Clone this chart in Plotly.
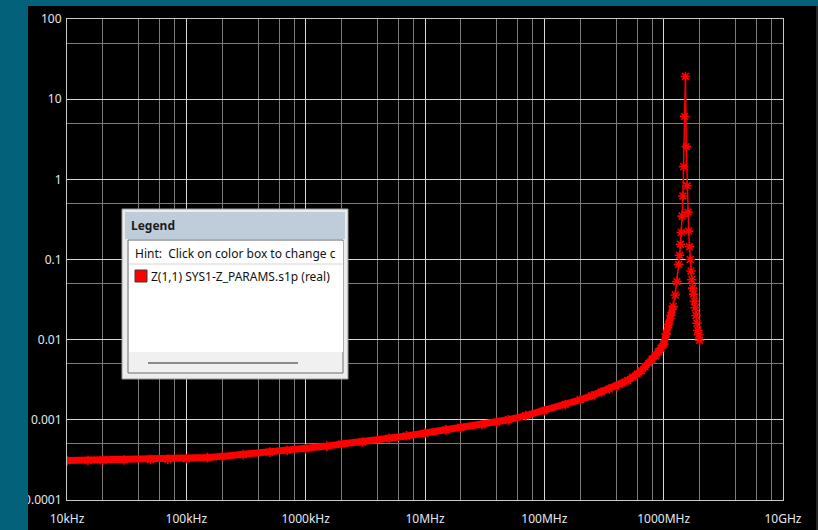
import plotly.graph_objects as go

# ---------------- data ----------------
freq_hz = [
    1e4, 1.5e4, 2e4, 3e4, 5e4, 7e4,
    1e5, 1.5e5, 2e5, 3e5, 5e5, 7e5,
    1e6, 1.5e6, 2e6, 3e6, 5e6, 7e6,
    1e7, 1.5e7, 2e7, 3e7, 4e7, 5e7, 7e7,
    1e8, 1.5e8, 2e8, 2.5e8, 3e8, 3.5e8, 4e8, 4.5e8, 5e8, 5.5e8, 6e8, 6.5e8,
    7e8, 7.5e8, 8e8, 8.5e8, 9e8, 9.5e8,
    1.0e9, 1.05e9, 1.1e9, 1.15e9, 1.2e9, 1.25e9, 1.29e9, 1.336e9,
    1.36e9, 1.384e9, 1.405e9, 1.427e9, 1.45e9, 1.472e9, 1.497e9, 1.522e9,
    1.548e9, 1.572e9, 1.596e9, 1.62e9, 1.645e9, 1.67e9, 1.695e9,
    1.72e9, 1.75e9, 1.78e9, 1.81e9, 1.84e9, 1.87e9, 1.90e9, 1.93e9, 1.96e9, 2.0e9,
]
z11_real = [
    0.00031, 0.000312, 0.000314, 0.000316, 0.00032, 0.000323,
    0.000327, 0.000338, 0.00035, 0.000368, 0.000395, 0.000415,
    0.000435, 0.00047, 0.0005, 0.00053, 0.00059, 0.00063,
    0.00068, 0.00075, 0.0008, 0.00087, 0.00093, 0.001, 0.00113,
    0.0013, 0.00155, 0.00178, 0.002, 0.00222, 0.00242, 0.00262, 0.00285, 0.0031, 0.0034, 0.0037, 0.0041,
    0.0046, 0.0051, 0.0057, 0.0063, 0.007, 0.0078,
    0.0088, 0.0118, 0.0155, 0.02, 0.026, 0.036, 0.053, 0.087,
    0.113, 0.155, 0.218, 0.348, 0.62, 1.44, 6.1, 19.2,
    2.56, 0.83, 0.39, 0.226, 0.144, 0.1, 0.072,
    0.056, 0.044, 0.037, 0.03, 0.025, 0.02, 0.016, 0.013, 0.0115, 0.0098,
]
series_name = "Z(1,1) SYS1-Z_PARAMS.s1p (real)"

x_tickvals = [1e4, 1e5, 1e6, 1e7, 1e8, 1e9, 1e10]
x_ticktext = ["10kHz", "100kHz", "1000kHz", "10MHz", "100MHz", "1000MHz", "10GHz"]
y_tickvals = [1e-4, 1e-3, 1e-2, 1e-1, 1, 10, 100]
y_ticktext = ["0.0001", "0.001", "0.01", "0.1", "1", "10", "100"]
x_minor = [m * 10.0 ** e for e in range(4, 10) for m in (2, 4, 6, 8)]
y_minor = [5 * 10.0 ** e for e in range(-4, 2)]

# dense (band-looking) part of the sweep, below the resonance
n_dense = sum(1 for f in freq_hz if f <= 1.2e9)

# ---------------- layout geometry ----------------
W, H = 818, 530
L, R, T, B = 67, 35, 19, 30
PW, PH = W - L - R, H - T - B


def px(x):
    return (x - L) / PW


def py(y):
    return (H - B - y) / PH


TEAL = "#03627a"
MAJOR = "#d8d8d8"
MINOR = "#7a7a7a"
FONT = "Noto Sans"

fig = go.Figure()
fig.add_trace(go.Scatter(
    x=freq_hz[:n_dense], y=z11_real[:n_dense], name=series_name, mode="lines",
    line=dict(color="#ff0000", width=7),
    showlegend=False, hoverinfo="skip",
))
fig.add_trace(go.Scatter(
    x=freq_hz, y=z11_real, name=series_name, mode="lines+markers",
    line=dict(color="#ff0000", width=1.5),
    marker=dict(symbol="asterisk-open", size=8, color="#ff0000",
                line=dict(color="#ff0000", width=1.6)),
    showlegend=False, hoverinfo="x+y",
))

axis_common = dict(
    type="log", showline=True, linecolor="#c8c8c8", linewidth=1, mirror=True,
    gridcolor=MAJOR, gridwidth=1, zeroline=False, ticks="", automargin=False,
    tickfont=dict(family=FONT, size=12, color="#e4e8ee"),
    tickmode="array",
)
fig.update_xaxes(**axis_common, range=[4, 10], tickvals=x_tickvals, ticktext=x_ticktext,
                 ticklabelstandoff=8,
                 minor=dict(tickmode="array", tickvals=x_minor, showgrid=True,
                            gridcolor=MINOR, gridwidth=1, ticks=""))
fig.update_yaxes(**axis_common, range=[-4, 2], tickvals=y_tickvals, ticktext=y_ticktext,
                 ticklabelstandoff=2,
                 minor=dict(tickmode="array", tickvals=y_minor, showgrid=True,
                            gridcolor=MINOR, gridwidth=1, ticks=""))

shapes = [
    # teal window frame (top strip and left strip), drawn over tick labels
    dict(type="rect", xref="paper", yref="paper", x0=px(-5), x1=px(W + 5), y0=py(6), y1=py(-5),
         fillcolor=TEAL, line=dict(width=0), layer="above"),
    dict(type="rect", xref="paper", yref="paper", x0=px(-5), x1=px(28), y0=py(H + 5), y1=py(-5),
         fillcolor=TEAL, line=dict(width=0), layer="above"),
    dict(type="line", xref="paper", yref="paper", x0=px(817), x1=px(817), y0=py(6), y1=py(H),
         line=dict(color="#4a4a4a", width=1), layer="above"),
    # legend window
    dict(type="rect", xref="paper", yref="paper", x0=px(122), x1=px(348), y0=py(379), y1=py(209),
         fillcolor="#ececec", line=dict(color="#9a9a9a", width=1), layer="above"),
    dict(type="rect", xref="paper", yref="paper", x0=px(125), x1=px(345), y0=py(239), y1=py(212),
         fillcolor="#bfcddb", line=dict(width=0), layer="above"),
    dict(type="rect", xref="paper", yref="paper", x0=px(128), x1=px(343), y0=py(373), y1=py(240),
         fillcolor="#f0f0f0", line=dict(color="#6e6e6e", width=1), layer="above"),
    dict(type="rect", xref="paper", yref="paper", x0=px(129), x1=px(343), y0=py(352), y1=py(241),
         fillcolor="#ffffff", line=dict(width=0), layer="above"),
    dict(type="line", xref="paper", yref="paper", x0=px(129), x1=px(343), y0=py(264), y1=py(264),
         line=dict(color="#d4d4d4", width=1), layer="above"),
    dict(type="rect", xref="paper", yref="paper", x0=px(135), x1=px(147), y0=py(282), y1=py(270),
         fillcolor="#ff0000", line=dict(color="#3a3a3a", width=1), layer="above"),
    dict(type="line", xref="paper", yref="paper", x0=px(148), x1=px(298), y0=py(363), y1=py(363),
         line=dict(color="#8a8a8a", width=2), layer="above"),
]

annotations = [
    dict(text="<b>Legend</b>", xref="paper", yref="paper", x=px(129), y=py(226),
         xanchor="left", yanchor="middle", showarrow=False,
         font=dict(family=FONT, size=12, color="#1c1c1c")),
    dict(text="Hint:  Click on color box to change c", xref="paper", yref="paper",
         x=px(133), y=py(253), xanchor="left", yanchor="middle", showarrow=False,
         font=dict(family=FONT, size=12, color="#111111")),
    dict(text=series_name, xref="paper", yref="paper", x=px(149), y=py(276),
         xanchor="left", yanchor="middle", showarrow=False,
         font=dict(family=FONT, size=12, color="#111111")),
]

fig.update_layout(
    width=W, height=H, autosize=False, margin=dict(l=L, r=R, t=T, b=B, pad=0),
    paper_bgcolor="#000000", plot_bgcolor="#000000",
    shapes=shapes, annotations=annotations, showlegend=False,
)

fig.write_html(
    "out.html",
    config={"displayModeBar": False},
    post_script="document.body.style.margin='0';document.body.style.overflow='hidden';",
)
